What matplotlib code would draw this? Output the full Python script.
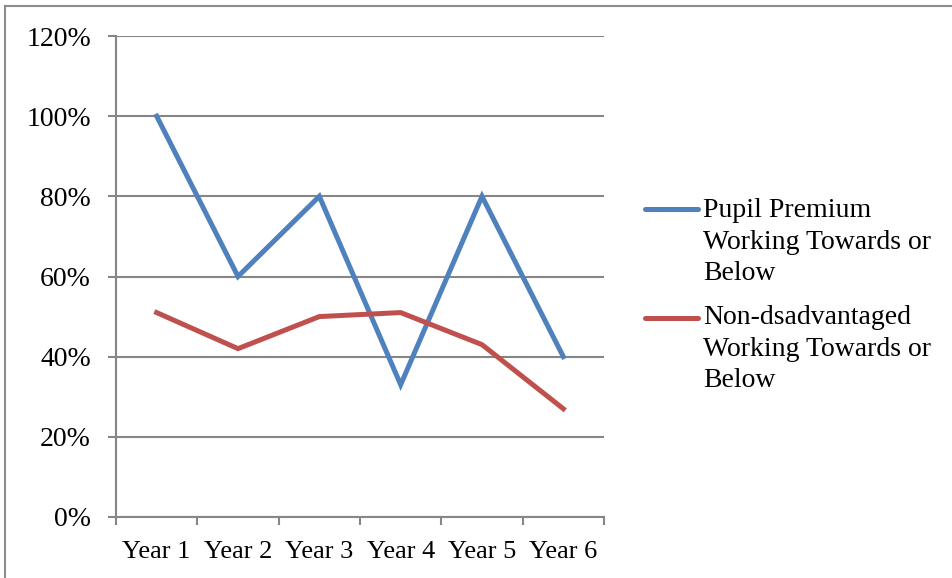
import numpy as np
import matplotlib.pyplot as plt
from matplotlib.lines import Line2D

# Chart data
years = ["Year 1", "Year 2", "Year 3", "Year 4", "Year 5", "Year 6"]
pupil_premium = [100, 60, 80, 33, 80, 40]
non_disadvantaged = [51, 42, 50, 51, 43, 27]
labels = ["Pupil Premium\nWorking Towards or\nBelow",
          "Non-dsadvantaged\nWorking Towards or\nBelow"]
colors = ['#4F81BD', '#C0504D']
y_ticks = [0, 20, 40, 60, 80, 100, 120]

plt.rcParams['font.family'] = ['Liberation Serif', 'DejaVu Serif']
grey = '#868686'
W, H = 953, 578

fig = plt.figure(figsize=(W / 100, H / 100), dpi=100)
ax = fig.add_axes([116 / W, 61 / H, 488 / W, 481 / H])

x = np.arange(len(years))
for series, c in zip([pupil_premium, non_disadvantaged], colors):
    ax.plot(x, series, color=c, lw=3.6, solid_joinstyle='miter')

ax.set_xlim(-0.5, len(years) - 0.5)
ax.set_ylim(0, 120)

# y axis
ax.set_yticks(y_ticks)
ax.set_yticklabels([f"{v}%" for v in y_ticks])
ax.yaxis.grid(True, color=grey, lw=1.5)
ax.set_axisbelow(True)

# x axis: tick marks between categories, labels at the centers
ax.set_xticks(np.arange(-0.5, len(years), 1))
ax.set_xticklabels([])
ax.set_xticks(x, minor=True)
ax.set_xticklabels(years, minor=True)
ax.tick_params(axis='x', which='minor', length=0, pad=17, labelsize=19)
ax.tick_params(axis='x', which='major', length=6, width=1.5, color=grey,
               direction='out')
ax.tick_params(axis='y', length=6, width=1.5, color=grey, pad=12,
               labelsize=20)

for side in ['top', 'right']:
    ax.spines[side].set_visible(False)
for side in ['left', 'bottom']:
    ax.spines[side].set_color(grey)
    ax.spines[side].set_linewidth(1.5)

# legend drawn by hand so the key line sits next to the first text line
# (key line y, baseline of last text line) in pixels from the top
for lab, c, key_y, last_base in zip(labels, colors, [209, 318], [280, 387]):
    fig.add_artist(Line2D([645 / W, 698 / W], [1 - key_y / H] * 2,
                          color=c, lw=3.6, solid_capstyle='round',
                          transform=fig.transFigure))
    fig.text(703 / W, 1 - last_base / H, lab, fontsize=20, va='baseline',
             ha='left', linespacing=1.33)

# outer chart border (only top and left edges are visible)
fig.add_artist(Line2D([5 / W, 5 / W], [0, 1 - 6 / H], color='#8c8c8c',
                      lw=1.5, transform=fig.transFigure))
fig.add_artist(Line2D([5 / W, 1], [1 - 6 / H, 1 - 6 / H],
                      color='#8c8c8c', lw=1.5, transform=fig.transFigure))

fig.savefig('out.png', dpi=100)
